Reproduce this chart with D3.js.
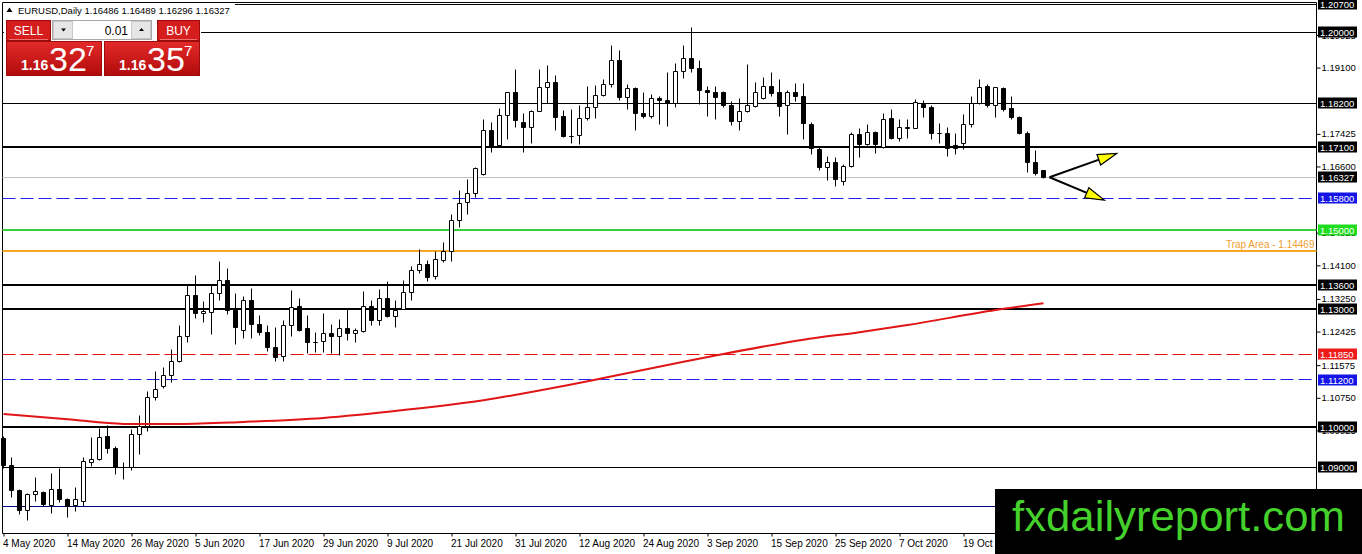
<!DOCTYPE html>
<html>
<head>
<meta charset="utf-8">
<script src="https://cdn.jsdelivr.net/npm/d3@7"></script>
<style>
  body { margin: 0; background: #fff; }
  svg { display: block; }
  text { font-family: "Liberation Sans", Arial, sans-serif; }
</style>
</head>
<body>
<svg id="chart" width="1362" height="554"></svg>
<script>
// EURUSD daily candles, 4 May 2020 .. 2 Nov 2020 (one value per bar)
const openP = [
  1.0973, 1.0904, 1.0840, 1.0791, 1.0831, 1.0835, 1.0803, 1.0844, 1.0817, 1.0803,
  1.0812, 1.0912, 1.0920, 1.0978, 1.0947, 1.0898, 1.0900, 1.0981, 1.1002, 1.1076,
  1.1103, 1.1132, 1.1166, 1.1231, 1.1334, 1.1289, 1.1291, 1.1339, 1.1372, 1.1295,
  1.1246, 1.1321, 1.1260, 1.1240, 1.1202, 1.1180, 1.1258, 1.1306, 1.1249, 1.1214,
  1.1217, 1.1238, 1.1230, 1.1251, 1.1238, 1.1243, 1.1306, 1.1270, 1.1327, 1.1280,
  1.1299, 1.1342, 1.1396, 1.1411, 1.1381, 1.1421, 1.1444, 1.1524, 1.1569, 1.1592,
  1.1640, 1.1750, 1.1712, 1.1789, 1.1846, 1.1770, 1.1758, 1.1800, 1.1860, 1.1873,
  1.1786, 1.1735, 1.1739, 1.1782, 1.1810, 1.1839, 1.1866, 1.1929, 1.1835, 1.1858,
  1.1794, 1.1786, 1.1832, 1.1826, 1.1818, 1.1901, 1.1934, 1.1908, 1.1852, 1.1848,
  1.1848, 1.1813, 1.1773, 1.1799, 1.1812, 1.1832, 1.1863, 1.1846, 1.1813, 1.1846,
  1.1838, 1.1767, 1.1704, 1.1657, 1.1670, 1.1622, 1.1660, 1.1742, 1.1716, 1.1747,
  1.1707, 1.1782, 1.1731, 1.1757, 1.1757, 1.1816, 1.1810, 1.1743, 1.1744, 1.1712,
  1.1717, 1.1767, 1.1819, 1.1862, 1.1814, 1.1858, 1.1807, 1.1784, 1.1744, 1.1670,
  1.16486
]
const highP = [
  1.0978, 1.0925, 1.0844, 1.0832, 1.0874, 1.0838, 1.0884, 1.0895, 1.0820, 1.0849,
  1.0925, 1.0975, 1.0998, 1.1004, 1.0953, 1.0912, 1.0994, 1.1029, 1.1090, 1.1141,
  1.1152, 1.1196, 1.1257, 1.1358, 1.1383, 1.1318, 1.1358, 1.1420, 1.1402, 1.1339,
  1.1331, 1.1351, 1.1284, 1.1258, 1.1253, 1.1270, 1.1347, 1.1325, 1.1283, 1.1240,
  1.1287, 1.1261, 1.1274, 1.1299, 1.1251, 1.1345, 1.1321, 1.1349, 1.1369, 1.1321,
  1.1371, 1.1408, 1.1451, 1.1423, 1.1444, 1.1467, 1.1539, 1.1599, 1.1626, 1.1658,
  1.1779, 1.1772, 1.1807, 1.1848, 1.1906, 1.1794, 1.1802, 1.1904, 1.1915, 1.1891,
  1.1802, 1.1805, 1.1815, 1.1863, 1.1864, 1.1879, 1.1965, 1.1952, 1.1866, 1.1860,
  1.1848, 1.1843, 1.1837, 1.1898, 1.1920, 1.1965, 1.2011, 1.1927, 1.1863, 1.1862,
  1.1849, 1.1825, 1.1831, 1.1917, 1.1873, 1.1885, 1.1898, 1.1881, 1.1853, 1.1869,
  1.1870, 1.1771, 1.1710, 1.1685, 1.1682, 1.1666, 1.1745, 1.1757, 1.1767, 1.1749,
  1.1795, 1.1805, 1.1780, 1.1780, 1.1829, 1.1826, 1.1814, 1.1769, 1.1758, 1.1744,
  1.1792, 1.1836, 1.1879, 1.1866, 1.1860, 1.1860, 1.1838, 1.1787, 1.1748, 1.1701,
  1.16489
]
const lowP = [
  1.0897, 1.0823, 1.0780, 1.0764, 1.0812, 1.0800, 1.0783, 1.0811, 1.0773, 1.0788,
  1.0800, 1.0901, 1.0916, 1.0933, 1.0882, 1.0869, 1.0890, 1.0932, 1.0989, 1.1069,
  1.1099, 1.1113, 1.1164, 1.1214, 1.1275, 1.1265, 1.1236, 1.1321, 1.1286, 1.1210,
  1.1224, 1.1224, 1.1233, 1.1192, 1.1166, 1.1168, 1.1230, 1.1242, 1.1188, 1.1189,
  1.1189, 1.1188, 1.1181, 1.1219, 1.1216, 1.1241, 1.1259, 1.1259, 1.1277, 1.1253,
  1.1299, 1.1322, 1.1390, 1.1368, 1.1373, 1.1418, 1.1419, 1.1506, 1.1539, 1.1582,
  1.1638, 1.1695, 1.1710, 1.1729, 1.1759, 1.1695, 1.1718, 1.1798, 1.1820, 1.1752,
  1.1733, 1.1719, 1.1716, 1.1776, 1.1782, 1.1836, 1.1859, 1.1828, 1.1805, 1.1751,
  1.1782, 1.1782, 1.1767, 1.1762, 1.1809, 1.1883, 1.1897, 1.1817, 1.1786, 1.1779,
  1.1809, 1.1763, 1.1750, 1.1796, 1.1810, 1.1830, 1.1836, 1.1786, 1.1742, 1.1824,
  1.1727, 1.1691, 1.1649, 1.1624, 1.1609, 1.1611, 1.1658, 1.1682, 1.1714, 1.1693,
  1.1705, 1.1727, 1.1723, 1.1731, 1.1755, 1.1783, 1.1727, 1.1719, 1.1685, 1.1691,
  1.1704, 1.1758, 1.1817, 1.1810, 1.1783, 1.1800, 1.1780, 1.1741, 1.1645, 1.1637,
  1.16296
]
const closeP = [
  1.0903, 1.0840, 1.0791, 1.0831, 1.0837, 1.0806, 1.0844, 1.0817, 1.0800, 1.0817,
  1.0913, 1.0919, 1.0975, 1.0947, 1.0899, 1.0900, 1.0981, 1.1002, 1.1076, 1.1097,
  1.1132, 1.1167, 1.1231, 1.1334, 1.1289, 1.1292, 1.1339, 1.1372, 1.1295, 1.1252,
  1.1321, 1.1260, 1.1240, 1.1202, 1.1178, 1.1258, 1.1304, 1.1246, 1.1214, 1.1215,
  1.1238, 1.1230, 1.1249, 1.1238, 1.1245, 1.1306, 1.1270, 1.1327, 1.1280, 1.1297,
  1.1342, 1.1396, 1.1411, 1.1380, 1.1425, 1.1444, 1.1524, 1.1567, 1.1592, 1.1654,
  1.1750, 1.1710, 1.1789, 1.1846, 1.1776, 1.1758, 1.1800, 1.1860, 1.1873, 1.1784,
  1.1735, 1.1737, 1.1782, 1.1810, 1.1839, 1.1868, 1.1929, 1.1834, 1.1858, 1.1794,
  1.1786, 1.1832, 1.1826, 1.1818, 1.1901, 1.1934, 1.1908, 1.1852, 1.1847, 1.1834,
  1.1815, 1.1773, 1.1800, 1.1813, 1.1846, 1.1863, 1.1845, 1.1811, 1.1846, 1.1836,
  1.1769, 1.1706, 1.1657, 1.1670, 1.1628, 1.1659, 1.1742, 1.1716, 1.1747, 1.1716,
  1.1780, 1.1731, 1.1758, 1.1759, 1.1822, 1.1810, 1.1743, 1.1744, 1.1706, 1.1706,
  1.1767, 1.1819, 1.1859, 1.1813, 1.1859, 1.1805, 1.1783, 1.1744, 1.1670, 1.1643,
  1.16327
]

// moving average, read at a few bars
const maIndex = [0, 8, 15, 22, 30, 40, 50, 60, 70, 75, 85, 89, 100, 107, 113, 124, 130]
const maValue = [1.1034, 1.1021, 1.1009, 1.1009, 1.1014, 1.1024, 1.1044, 1.1069, 1.1105,
  1.1125, 1.1166, 1.1182, 1.1222, 1.1241, 1.1259, 1.1297, 1.1314]

// time axis
const dateTickIndex = [0, 8, 16, 24, 32, 40, 48, 56, 64, 72, 80, 88, 96, 104, 112, 120]
const dateTickLabel = ['4 May 2020', '14 May 2020', '26 May 2020', '5 Jun 2020', '17 Jun 2020',
  '29 Jun 2020', '9 Jul 2020', '21 Jul 2020', '31 Jul 2020', '12 Aug 2020', '24 Aug 2020',
  '3 Sep 2020', '15 Sep 2020', '25 Sep 2020', '7 Oct 2020', '19 Oct 2020']

// price axis (labels that peek out from under the level boxes are kept)
const priceTicks = [1.19925, 1.191, 1.17425, 1.166, 1.14925, 1.141,
  1.1325, 1.12425, 1.11575, 1.1075, 1.09925]

// drawn levels
const thinLevels = [1.207, 1.2, 1.182, 1.09]
const thickLevels = [1.171, 1.136, 1.13, 1.1]
const blueLevels = [1.158, 1.112]
const redLevels = [1.1185]
const greenLevels = [1.15]
const navyLevels = [1.08]
const trapLevel = 1.14469
const lastPrice = 1.16327
const header = { symbol: 'EURUSD,Daily', ohlc: [1.16486, 1.16489, 1.16296, 1.16327] }
const sellQuote = ['1.16', '32', '7']
const buyQuote = ['1.16', '35', '7']

const width = 1362
const height = 554
const axisX = 1316.5
const plotBottom = 533.5

const svg = d3.select('#chart')
const defs = svg.append('defs')

const x = d3.scaleLinear().domain([0, 130]).range([3.5, 1043.5])
const y = d3.scaleLinear().domain([1.09, 1.2]).range([467, 32])

// crisp 1px positions
const px = (v) => Math.round(v - 0.5) + 0.5

svg.append('rect').attr('width', width).attr('height', height).attr('fill', '#fff')

// Chart frame
svg.append('path')
  .attr('d', `M2.5,${plotBottom} V2.5 H${axisX} V${plotBottom} H2.5`)
  .attr('fill', 'none')
  .attr('stroke', '#000')

// Horizontal levels
const levels = svg.append('g')
function drawLevel(price, color, w, dash) {
  const yy = w % 2 ? px(y(price)) : Math.round(y(price))
  levels.append('line')
    .attr('x1', 2.5).attr('x2', axisX)
    .attr('y1', yy).attr('y2', yy)
    .attr('stroke', color)
    .attr('stroke-width', w)
    .attr('stroke-dasharray', dash || null)
}
thinLevels.forEach((p) => drawLevel(p, '#000', 1))
thickLevels.forEach((p) => drawLevel(p, '#000', 2))
drawLevel(lastPrice, '#c0c0c0', 1)
blueLevels.forEach((p) => drawLevel(p, '#2020e8', 1, '13,5'))
redLevels.forEach((p) => drawLevel(p, '#e01010', 1, '13,5'))
greenLevels.forEach((p) => drawLevel(p, '#3ccf3c', 2))
navyLevels.forEach((p) => drawLevel(p, '#000080', 1))
drawLevel(trapLevel, '#f5a623', 2)

// Candles
const bars = d3.range(openP.length)
const candles = svg.append('g')
candles.selectAll('line.wick')
  .data(bars)
  .enter()
  .append('line')
  .attr('class', 'wick')
  .attr('x1', (i) => x(i)).attr('x2', (i) => x(i))
  .attr('y1', (i) => px(y(highP[i])))
  .attr('y2', (i) => px(y(lowP[i])))
  .attr('stroke', '#000')

candles.selectAll('path.body')
  .data(bars)
  .enter()
  .append('path')
  .attr('class', 'body')
  .attr('d', (i) => {
    const top = px(y(Math.max(openP[i], closeP[i])))
    const bot = px(y(Math.min(openP[i], closeP[i])))
    const l = x(i) - 2
    const r = x(i) + 2
    return `M${l},${top} H${r} V${bot} H${l} Z`
  })
  .attr('fill', (i) => (closeP[i] >= openP[i] ? '#fff' : '#000'))
  .attr('stroke', '#000')

// Moving average
const maLine = d3.line()
  .x((d, k) => x(maIndex[k]))
  .y((d) => y(d))
  .curve(d3.curveMonotoneX)
svg.append('path')
  .attr('d', maLine(maValue))
  .attr('fill', 'none')
  .attr('stroke', '#e01515')
  .attr('stroke-width', 2)

// Price axis
const yAxis = d3.axisRight(y)
  .tickValues(priceTicks)
  .tickFormat(d3.format('.5f'))
  .tickSize(4)
  .tickPadding(1)
const yAxisG = svg.append('g').attr('transform', `translate(${axisX},0)`).call(yAxis)
yAxisG.select('.domain').remove()
yAxisG.selectAll('text').attr('font-size', 9.5).attr('fill', '#000')
  .style('font-family', '"Liberation Sans", Arial, sans-serif')

// Time axis
const xAxis = d3.axisBottom(x)
  .tickValues(dateTickIndex)
  .tickFormat((d, k) => dateTickLabel[k])
  .tickSize(3)
  .tickPadding(3)
const xAxisG = svg.append('g').attr('transform', `translate(0,${plotBottom})`).call(xAxis)
xAxisG.select('.domain').remove()
xAxisG.selectAll('text')
  .attr('text-anchor', 'start')
  .attr('dx', -1)
  .attr('font-size', 10)
  .attr('fill', '#000')
  .style('font-family', '"Liberation Sans", Arial, sans-serif')

// Level labels on the price axis
const labels = svg.append('g')
function drawLabel(price, bg) {
  const yy = y(price)
  labels.append('rect')
    .attr('x', 1318).attr('y', Math.round(yy) - 5.5)
    .attr('width', 39).attr('height', 11)
    .attr('fill', bg)
  labels.append('text')
    .attr('x', 1320).attr('y', Math.round(yy) + 3.5)
    .attr('font-size', 9.5)
    .attr('fill', '#fff')
    .text(d3.format('.5f')(price))
}
thinLevels.forEach((p) => drawLabel(p, '#000'))
thickLevels.forEach((p) => drawLabel(p, '#000'))
drawLabel(lastPrice, '#000')
blueLevels.forEach((p) => drawLabel(p, '#1414e6'))
redLevels.forEach((p) => drawLabel(p, '#ee1b1b'))
greenLevels.forEach((p) => drawLabel(p, '#1fdc1f'))

svg.append('text')
  .attr('x', axisX - 2).attr('y', Math.round(y(trapLevel)) - 3)
  .attr('text-anchor', 'end')
  .attr('font-size', 10)
  .attr('fill', '#f0a030')
  .text(`Trap Area - ${d3.format('.5f')(trapLevel)}`)

// Arrows from the last bar
const arrows = svg.append('g')
const start = [x(130) + 6, y(lastPrice)]
const arrowEnds = [[x(139.15), y(1.1693)], [x(137.6), y(1.1575)]]
arrowEnds.forEach((tip) => {
  const dx = tip[0] - start[0]
  const dy = tip[1] - start[1]
  const len = Math.hypot(dx, dy)
  const ux = dx / len
  const uy = dy / len
  const hl = 19
  const hw = 5.5
  const bx = tip[0] - ux * hl
  const by = tip[1] - uy * hl
  arrows.append('line')
    .attr('x1', start[0]).attr('y1', start[1])
    .attr('x2', bx + ux * 4).attr('y2', by + uy * 4)
    .attr('stroke', '#000').attr('stroke-width', 2)
  arrows.append('path')
    .attr('d', `M${tip[0]},${tip[1]} L${bx - uy * hw},${by + ux * hw} L${bx + uy * hw},${by - ux * hw} Z`)
    .attr('fill', '#ffff00')
    .attr('stroke', '#000')
    .attr('stroke-width', 1.2)
})

// Header
svg.append('rect').attr('x', 3).attr('y', 3).attr('width', 232).attr('height', 15).attr('fill', '#fff')
svg.append('path').attr('d', 'M6.5,12 L9.5,7.5 L12.5,12 Z').attr('fill', '#000')
svg.append('text')
  .attr('x', 18).attr('y', 14)
  .attr('font-size', 9.5)
  .attr('fill', '#000')
  .text(`${header.symbol}  ${header.ohlc.map(d3.format('.5f')).join(' ')}`)

// One-click trading panel
const grad = defs.append('linearGradient').attr('id', 'redGrad')
  .attr('x1', 0).attr('y1', 0).attr('x2', 0).attr('y2', 1)
grad.append('stop').attr('offset', '0%').attr('stop-color', '#e42a2a')
grad.append('stop').attr('offset', '100%').attr('stop-color', '#b10b0b')

const panel = svg.append('g')
panel.append('rect').attr('x', 4).attr('y', 18).attr('width', 197).attr('height', 60).attr('fill', '#fff')

// small SELL / BUY button above each quote
function sideButton(x0, w, label) {
  panel.append('rect')
    .attr('x', x0 + 0.5).attr('y', 20.5).attr('width', w).attr('height', 20)
    .attr('fill', '#d61d1d').attr('stroke', '#9c0c0c')
  panel.append('line')
    .attr('x1', x0 + 3).attr('x2', x0 + w - 2)
    .attr('y1', 39.5).attr('y2', 39.5)
    .attr('stroke', '#f07070')
  panel.append('text')
    .attr('x', x0 + w / 2 + 0.5).attr('y', 35)
    .attr('text-anchor', 'middle')
    .attr('font-size', 12)
    .attr('fill', '#fff')
    .text(label)
}
// big quote button
function quoteButton(x0, quote) {
  panel.append('rect')
    .attr('x', x0 + 0.5).attr('y', 41.5).attr('width', 95).attr('height', 34)
    .attr('fill', 'url(#redGrad)').attr('stroke', '#9c0c0c')
  panel.append('text')
    .attr('x', x0 + 15).attr('y', 70)
    .attr('font-size', 14).attr('font-weight', 'bold')
    .attr('fill', '#fff')
    .text(quote[0])
  panel.append('text')
    .attr('x', x0 + 43).attr('y', 71)
    .attr('font-size', 34)
    .attr('fill', '#fff')
    .text(quote[1])
  panel.append('text')
    .attr('x', x0 + 80).attr('y', 56)
    .attr('font-size', 15)
    .attr('fill', '#fff')
    .text(quote[2])
}
sideButton(6, 44, 'SELL')
sideButton(157, 42, 'BUY')
quoteButton(6, sellQuote)
quoteButton(104, buyQuote)

// lot size box
panel.append('rect').attr('x', 52.5).attr('y', 20.5).attr('width', 99).attr('height', 19)
  .attr('fill', '#fff').attr('stroke', '#a8a8a8')
panel.append('rect').attr('x', 53.5).attr('y', 21.5).attr('width', 19).attr('height', 17)
  .attr('fill', '#e6e6e6').attr('stroke', '#c8c8c8')
panel.append('rect').attr('x', 131.5).attr('y', 21.5).attr('width', 19).attr('height', 17)
  .attr('fill', '#e6e6e6').attr('stroke', '#c8c8c8')
panel.append('path').attr('d', 'M61,28.5 L66,28.5 L63.5,31.5 Z').attr('fill', '#000')
panel.append('path').attr('d', 'M139,31 L144,31 L141.5,28 Z').attr('fill', '#000')
panel.append('text')
  .attr('x', 128).attr('y', 35)
  .attr('text-anchor', 'end')
  .attr('font-size', 12)
  .attr('fill', '#000')
  .text('0.01')

// Watermark
svg.append('rect').attr('x', 995).attr('y', 489).attr('width', 367).attr('height', 65).attr('fill', '#000')
svg.append('text')
  .attr('x', 1012).attr('y', 531)
  .attr('font-size', 43)
  .attr('textLength', 333)
  .attr('lengthAdjust', 'spacingAndGlyphs')
  .attr('fill', '#45d12b')
  .text('fxdailyreport.com')
</script>
</body>
</html>
